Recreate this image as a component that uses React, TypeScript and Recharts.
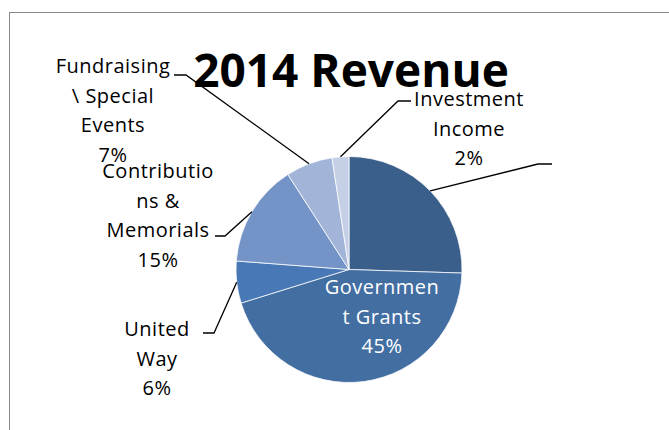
import React from "react";
import { PieChart, Pie, Cell } from "recharts";

// revenue shares (%)
const CATEGORIES = [
  "Program Fees",
  "Government Grants",
  "United Way",
  "Contributions & Memorials",
  "Fundraising \\ Special Events",
  "Investment Income",
];
const VALUES = [25.5, 44.7, 6.0, 14.7, 6.7, 2.4];

// label text as wrapped in the original
const LABEL_LINES: string[][] = [
  [],
  ["Governmen", "t Grants"],
  ["United", "Way"],
  ["Contributio", "ns &", "Memorials"],
  ["Fundraising", "\\ Special", "Events"],
  ["Investment", "Income"],
];

const COLORS = ["#3A5F8B", "#436EA2", "#4878B5", "#7494C7", "#A2B5D8", "#C5D0E6"];

// where each label sits: leader elbow, leader end, text centre and first baseline
const LABEL_LAYOUT = [
  { elbow: [538, 164], end: [552, 164], x: 0, y: 0, inside: false },
  { elbow: null, end: null, x: 382, y: 294, inside: true },
  { elbow: [214, 333], end: [203, 333], x: 157, y: 336, inside: false },
  { elbow: [225, 236], end: [215, 236], x: 158, y: 178, inside: false },
  { elbow: [186, 75], end: [174, 75], x: 113, y: 73, inside: false },
  { elbow: [398, 101], end: [411, 101], x: 469, y: 106, inside: false },
];

const chartData = CATEGORIES.map((name, i) => ({ name, value: VALUES[i] }));

const FONT = "'Open Sans', 'DejaVu Sans', sans-serif";
const RAD = Math.PI / 180;

const renderLabel = (props: any) => {
  const { cx, cy, midAngle, outerRadius, percent, index } = props;
  const layout = LABEL_LAYOUT[index];
  const lines = LABEL_LINES[index];
  const sx = cx + outerRadius * Math.cos(-midAngle * RAD);
  const sy = cy + outerRadius * Math.sin(-midAngle * RAD);
  const pct = `${Math.round(percent * 100)}%`;
  return (
    <g key={`lbl-${index}`}>
      {layout.elbow && (
        <polyline
          points={`${sx},${sy} ${layout.elbow[0]},${layout.elbow[1]} ${layout.end![0]},${layout.end![1]}`}
          fill="none"
          stroke="#000"
          strokeWidth={1.3}
        />
      )}
      {lines.length > 0 && (
        <text
          x={layout.x}
          y={layout.y}
          textAnchor="middle"
          fontFamily={FONT}
          fontSize={20}
          letterSpacing={0.5}
          fill={layout.inside ? "#fff" : "#000"}
        >
          {[...lines, pct].map((t, k) => (
            <tspan key={k} x={layout.x} dy={k === 0 ? 0 : 29.5}>
              {t}
            </tspan>
          ))}
        </text>
      )}
    </g>
  );
};

export default function App() {
  return (
    <div
      style={{
        position: "absolute",
        left: 0,
        top: 0,
        width: 669,
        height: 430,
        overflow: "hidden",
        background: "#fff",
      }}
    >
      <div
        style={{
          position: "absolute",
          left: 9,
          top: 12,
          width: 720,
          height: 500,
          border: "1.5px solid #878787",
        }}
      />
      <svg
        width={669}
        height={430}
        style={{ position: "absolute", left: 0, top: 0, pointerEvents: "none" }}
      >
        <text
          x={351}
          y={87}
          textAnchor="middle"
          fontFamily={FONT}
          fontWeight="bold"
          fontSize={46}
          fill="#000"
        >
          2014 Revenue
        </text>
      </svg>
      <div style={{ position: "absolute", left: 0, top: 0 }}>
        <PieChart width={669} height={430} margin={{ top: 0, right: 0, bottom: 0, left: 0 }}>
          <Pie
            data={chartData}
            dataKey="value"
            nameKey="name"
            cx={349}
            cy={269.5}
            outerRadius={113}
            startAngle={90}
            endAngle={-270}
            stroke="#fff"
            strokeWidth={0.75}
            label={renderLabel}
            labelLine={false}
            isAnimationActive={false}
          >
            {chartData.map((d, i) => (
              <Cell key={d.name} fill={COLORS[i]} />
            ))}
          </Pie>
        </PieChart>
      </div>
    </div>
  );
}
